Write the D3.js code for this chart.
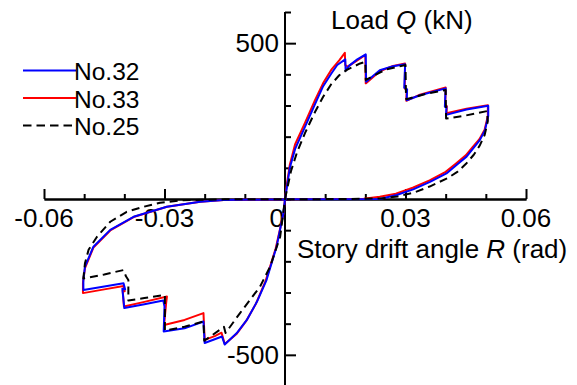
<!DOCTYPE html>
<html>
<head>
<meta charset="utf-8">
<script src="https://cdn.jsdelivr.net/npm/d3@7"></script>
<style>
  html, body { margin: 0; padding: 0; background: #fff; }
  svg { display: block; }
  text { font-family: "Liberation Sans", Arial, sans-serif; font-size: 26px; fill: #000; }
</style>
</head>
<body>
<svg id="chart" width="577" height="385"></svg>
<script>
// ---- Data: [story drift angle R (rad), load Q (kN)] ----
const no32 = [
  [0,0],[0.0005,40],[0.0012,100],[0.0025,160],[0.005,232],[0.0075,305],[0.0095,362],[0.0115,402],
  [0.013,430],[0.015,448],[0.0151,412],[0.016,428],[0.018,448],[0.0201,464],[0.0202,376],
  [0.0236,413],[0.0269,426],[0.0299,432],[0.0297,357],[0.0304,352],[0.0303,317],[0.0336,333],
  [0.0400,355],[0.0398,296],[0.0402,296],[0.0401,270],[0.0452,287],[0.0506,299],[0.0506,266],
  [0.0498,221],[0.0485,189],[0.0468,162],[0.0452,136],[0.0427,109],[0.0402,82],[0.0361,55],
  [0.0319,31],[0.0278,13],[0.0236,0],[0.01,-1],[0,-1],[-0.0153,-3],
  [-0.0211,-9],[-0.0294,-25],[-0.0377,-57],[-0.0435,-99],[-0.0477,-153],[-0.0498,-217],
  [-0.0502,-260],[-0.0502,-292],[-0.045,-281],[-0.0402,-270],[-0.0398,-290],[-0.0405,-288],
  [-0.0400,-350],[-0.035,-338],[-0.0303,-326],[-0.0300,-345],[-0.0302,-425],[-0.025,-415],
  [-0.0203,-393],[-0.0200,-462],[-0.0175,-450],[-0.0157,-441],[-0.0150,-467],[-0.012,-430],
  [-0.0095,-388],[-0.007,-330],[-0.0046,-260],[-0.0021,-153],[-0.0004,-46],[0,0]
];
const no33 = [
  [0,0],[0.0005,50],[0.0012,110],[0.0025,175],[0.005,245],[0.0075,318],[0.0095,372],[0.0115,414],
  [0.0135,445],[0.0149,469],[0.0150,430],[0.0156,425],[0.018,445],[0.0200,462],[0.0201,371],
  [0.0236,410],[0.0269,427],[0.0299,435],[0.0298,355],[0.0303,350],[0.0302,315],[0.0336,335],
  [0.0400,358],[0.0399,300],[0.0403,298],[0.0402,275],[0.0452,290],[0.0505,301],[0.0505,266],
  [0.0497,222],[0.0484,192],[0.0467,166],[0.0450,140],[0.0425,113],[0.0400,87],[0.0360,60],
  [0.0318,36],[0.0276,17],[0.0236,7],[0.0196,1],[0.01,0],[0,-1],[-0.0153,-3],
  [-0.0211,-9],[-0.0294,-25],[-0.0377,-58],[-0.0435,-101],[-0.0477,-156],[-0.0498,-222],
  [-0.0503,-268],[-0.0503,-302],[-0.045,-290],[-0.0402,-279],[-0.0399,-296],[-0.0404,-294],
  [-0.0401,-345],[-0.035,-330],[-0.0294,-313],[-0.0296,-335],[-0.0301,-404],[-0.025,-388],
  [-0.0203,-366],[-0.0200,-452],[-0.0175,-440],[-0.0158,-429],[-0.0150,-465],[-0.012,-432],
  [-0.0097,-392],[-0.0072,-335],[-0.0048,-262],[-0.0023,-158],[-0.0004,-48],[0,0]
];
const no25 = [
  [0,0],[0.0005,30],[0.0015,90],[0.003,150],[0.005,212],[0.0075,280],[0.0095,328],[0.0115,368],
  [0.0135,397],[0.0155,415],[0.0187,435],[0.0200,440],[0.0201,382],[0.025,415],[0.0300,430],
  [0.0301,345],[0.0302,320],[0.035,337],[0.0400,350],[0.0401,258],[0.045,268],[0.0503,282],
  [0.0505,250],[0.0497,205],[0.0485,172],[0.0470,142],[0.0450,112],[0.0430,88],[0.0405,67],
  [0.0360,40],[0.0320,20],[0.0280,8],[0.0240,2],[0.015,0],[0,-1],[-0.015,-1],[-0.0254,-4],
  [-0.0311,-12],[-0.0352,-25],[-0.0394,-41],[-0.0435,-73],[-0.0468,-121],[-0.0489,-163],
  [-0.0498,-206],[-0.0502,-255],[-0.045,-242],[-0.0402,-228],[-0.0396,-248],[-0.0390,-260],
  [-0.0390,-326],[-0.035,-318],[-0.0299,-308],[-0.0299,-422],[-0.025,-410],[-0.0203,-393],
  [-0.0201,-455],[-0.0152,-410],[-0.0148,-430],[-0.0112,-366],[-0.0062,-281],[-0.0037,-217],
  [-0.0012,-121],[0,0]
];
const seriesNames = ["No.32", "No.33", "No.25"];
const seriesColors = ["#0000ff", "#ff0000", "#000000"];
const xMajorTicks = [-0.06, -0.03, 0, 0.03, 0.06];
const xMinorTicks = [-0.05, -0.04, -0.02, -0.01, 0.01, 0.02, 0.04, 0.05];
const xTickLabels = ["-0.06", "-0.03", "0", "0.03", "0.06"];
const yMajorTicks = [-500, 500];
const yMinorTicks = [-400, -300, -200, -100, 0, 100, 200, 300, 400, 600];
const yTickLabels = ["-500", "500"];

// ---- Chart ----
const svg = d3.select("#chart");
const x = d3.scaleLinear().domain([-0.06, 0.06]).range([44, 526]);
const y = d3.scaleLinear().domain([-600, 600]).range([386, 12]);

// Axes (ticks drawn inward: up for x, right for y)
const gx = svg.append("g").attr("transform", `translate(0,${y(0)})`);
gx.call(d3.axisTop(x).tickValues(xMinorTicks).tickSize(5).tickSizeOuter(0).tickFormat(""));
gx.append("g").call(d3.axisTop(x).tickValues(xMajorTicks).tickSize(10).tickSizeOuter(0).tickFormat(""));
const gy = svg.append("g").attr("transform", `translate(${x(0)},0)`);
gy.call(d3.axisRight(y).tickValues(yMinorTicks).tickSize(6).tickSizeOuter(0).tickFormat(""));
gy.append("g").call(d3.axisRight(y).tickValues(yMajorTicks).tickSize(11).tickSizeOuter(0).tickFormat(""));
gy.selectAll(".domain").attr("d", `M0,${y(600)}V385`);
svg.selectAll(".domain, .tick line").attr("stroke", "#000").attr("stroke-width", 2);

// Tick labels
xMajorTicks.forEach((v, i) => {
  svg.append("text")
    .attr("x", v === 0 ? x(v) - 1 : x(v))
    .attr("y", 227)
    .attr("text-anchor", v === 0 ? "end" : "middle")
    .text(xTickLabels[i]);
});
yMajorTicks.forEach((v, i) => {
  svg.append("text")
    .attr("x", x(0) - 6)
    .attr("y", y(v) + 9)
    .attr("text-anchor", "end")
    .text(yTickLabels[i]);
});

// Axis titles
const t1 = svg.append("text").attr("x", 331).attr("y", 29);
t1.append("tspan").text("Load ");
t1.append("tspan").attr("font-style", "italic").text("Q");
t1.append("tspan").text(" (kN)");
const t2 = svg.append("text").attr("x", 297).attr("y", 258);
t2.append("tspan").text("Story drift angle ");
t2.append("tspan").attr("font-style", "italic").text("R");
t2.append("tspan").text(" (rad)");

// Curves
const line = d3.line().x(d => x(d[0])).y(d => y(d[1]));
const curves = [no33, no32, no25];
const curveColors = [seriesColors[1], seriesColors[0], seriesColors[2]];
curves.forEach((data, i) => {
  svg.append("path")
    .datum(data)
    .attr("d", line)
    .attr("fill", "none")
    .attr("stroke", curveColors[i])
    .attr("stroke-width", 2)
    .attr("stroke-linejoin", "round")
    .attr("stroke-dasharray", curveColors[i] === "#000000" ? "8,5" : null);
});

// Legend
seriesNames.forEach((name, i) => {
  const ly = 70.5 + i * 27.5;
  svg.append("line")
    .attr("x1", 23).attr("x2", 76).attr("y1", ly).attr("y2", ly)
    .attr("stroke", seriesColors[i]).attr("stroke-width", 2)
    .attr("stroke-dasharray", i === 2 ? "8.5,5" : null);
  svg.append("text").attr("x", 74).attr("y", ly + 9.5)
    .style("font-size", "24.5px").text(name);
});
</script>
</body>
</html>
